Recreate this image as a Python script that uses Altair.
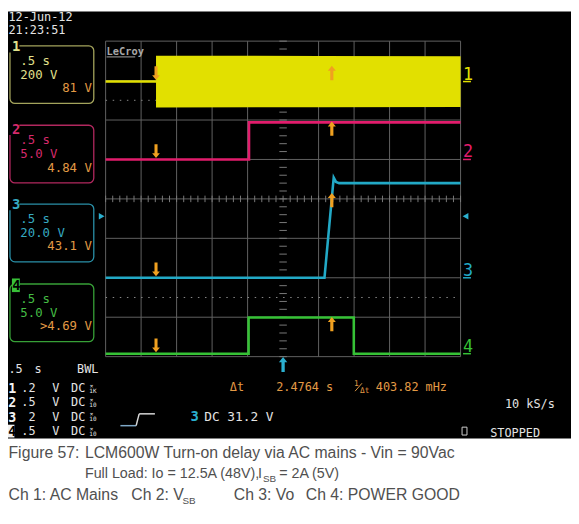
import altair as alt
import pandas as pd

# ---------------- values ----------------
SEC_PER_DIV = 0.5
H_DIVS = 10
V_DIVS = 8

ch_ids = ["1", "2", "3", "4"]
ch_colors = ["#e2e000", "#e21c6c", "#22a9c6", "#36c236"]
ch_box_txt = ["#e0e08c", "#d62a6c", "#36aac2", "#45bd45"]
ch_box_line = ["#a4a45c", "#b2285f", "#2a90a8", "#37a037"]
ch_v_per_div = [200.0, 5.0, 20.0, 5.0]
ch_ground = [2.975, 1.0, -2.0, -3.925]  # divisions from screen centre
ch_tdiv_lbl = [".5 s", ".5 s", ".5 s", ".5 s"]
ch_vdiv_lbl = ["200 V", "5.0 V", "20.0 V", "5.0 V"]
ch_meas_lbl = ["81 V", "4.84 V", "43.1 V", ">4.69 V"]
ch_meas_val = [81.0, 4.84, 43.1, 4.69]

# traces: time (s) and value (V)
ch1_idle_t = [-2.5, -1.79]
ch1_idle_v = [0.0, 0.0]
ch1_env_t = [-1.79, 0.5, 2.5]
ch1_env_pk = [131.0, 130.0, 129.0]
ch2_t = [-2.5, -0.48, -0.48, 2.5]
ch2_v = [0.0, 0.0, 4.7, 4.7]
ch3_t = [-2.5, 0.583, 0.713, 0.745, 0.79, 2.5]
ch3_v = [0.0, 0.0, 50.8, 48.6, 48.0, 48.0]
ch4_t = [-2.5, -0.486, -0.486, 0.996, 0.996, 2.5]
ch4_v = [0.0, 0.0, 4.6, 4.6, 0.0, 0.0]

cursor_t = [-1.79, 0.6864]
trig_ch = 2
trig_level = 31.2

probe_vdiv = [".2", ".5", "2", ".5"]
probe_att = ["1K", "10", "10", "10"]

# ---------------- layout (pixels of the 579x524 picture) ----------------
OFF = 8                      # page margin
W, H = 579 - OFF, 524 - 16   # chart size
CX, CY = 287.0, 198.0        # screen centre
PX_S = 36.0 / SEC_PER_DIV    # px per second
PX_D = 40.0                  # px per division

XS = alt.Scale(domain=[(OFF - CX) / PX_S, (OFF + W - CX) / PX_S], nice=False, zero=False)
YS = alt.Scale(domain=[(CY - OFF - H) / PX_D, (CY - OFF) / PX_D], nice=False, zero=False)
MONO = "DejaVu Sans Mono"
SANS = "Liberation Sans"


def X(f):
    return alt.X(f, scale=XS, axis=None)


def Y(f):
    return alt.Y(f, scale=YS, axis=None)


def to_div(ch, v):
    return ch_ground[ch] + v / ch_v_per_div[ch]


layers = []

# background: scope screen (black) above caption (white)
bg = pd.DataFrame([{"a": 0}])
layers.append(alt.Chart(bg).mark_rect(color="black").encode(
    x=alt.value(0), x2=alt.value(W), y=alt.value(0), y2=alt.value(441 - OFF)))

# grid
half_t = H_DIVS / 2 * SEC_PER_DIV
grid = []
for k in range(H_DIVS + 1):
    t = -half_t + k * SEC_PER_DIV
    if k == H_DIVS // 2:
        continue
    grid.append({"t1": t, "t2": t, "d1": -V_DIVS / 2, "d2": V_DIVS / 2})
for k in range(V_DIVS + 1):
    d = -V_DIVS / 2 + k
    grid.append({"t1": -half_t, "t2": half_t, "d1": d, "d2": d})
layers.append(alt.Chart(pd.DataFrame(grid)).mark_rule(color="#626262", strokeWidth=1).encode(
    x=X("t1:Q"), x2="t2:Q", y=Y("d1:Q"), y2="d2:Q"))

# dotted reference lines
dots = pd.DataFrame([{"d": 2.5}, {"d": -2.5}])
layers.append(alt.Chart(dots).mark_rule(color="#8a8a8a", strokeWidth=1, strokeDash=[1.5, 5.7]).encode(
    x=alt.value(107 - OFF), x2=alt.value(467 - OFF), y=Y("d:Q")))

# centre-axis ticks
ticks = []
for i in range(int(H_DIVS * 5) + 1):
    t = -half_t + i * SEC_PER_DIV / 5
    ticks.append({"t1": t, "t2": t, "d1": -3.3 / PX_D, "d2": 3.3 / PX_D})
for j in range(V_DIVS * 5 + 1):
    d = -V_DIVS / 2 + j / 5
    ticks.append({"t1": -3.8 / PX_S, "t2": 3.8 / PX_S, "d1": d, "d2": d})
layers.append(alt.Chart(pd.DataFrame(ticks)).mark_rule(color="#7a7a7a", strokeWidth=1).encode(
    x=X("t1:Q"), x2="t2:Q", y=Y("d1:Q"), y2="d2:Q"))

# CH1 envelope (AC mains)
env = pd.DataFrame({"t": ch1_env_t,
                    "hi": [to_div(0, v) for v in ch1_env_pk],
                    "lo": [to_div(0, -v) for v in ch1_env_pk]})
layers.append(alt.Chart(env).mark_area(color=ch_colors[0], opacity=1).encode(
    x=X("t:Q"), y=Y("hi:Q"), y2="lo:Q"))

# traces
rows = []
series = [(0, ch1_idle_t, ch1_idle_v), (1, ch2_t, ch2_v), (2, ch3_t, ch3_v), (3, ch4_t, ch4_v)]
for ch, ts, vs in series:
    for i, (t, v) in enumerate(zip(ts, vs)):
        rows.append({"ch": ch_ids[ch], "i": i, "t": t, "d": to_div(ch, v)})
layers.append(alt.Chart(pd.DataFrame(rows)).mark_line(strokeWidth=2.6).encode(
    x=X("t:Q"), y=Y("d:Q"),
    color=alt.Color("ch:N", scale=alt.Scale(domain=ch_ids, range=ch_colors), legend=None),
    order="i:Q"))

# cursor arrows
UP = "M 0 -1 L 0.56 -0.3 L 0.22 -0.3 L 0.22 1 L -0.22 1 L -0.22 -0.3 L -0.56 -0.3 Z"
DOWN = "M 0 1 L 0.56 0.3 L 0.22 0.3 L 0.22 -1 L -0.22 -1 L -0.22 0.3 L -0.56 0.3 Z"
down = pd.DataFrame([{"t": cursor_t[0], "d": to_div(c, 0.0) + 8.5 / PX_D} for c in range(4)])
up = pd.DataFrame([{"t": cursor_t[1], "d": to_div(c, ch_meas_val[c]) - 7.5 / PX_D} for c in range(4)])
layers.append(alt.Chart(down).mark_point(shape=DOWN, filled=True, size=196, color="#f0a020", opacity=1).encode(
    x=X("t:Q"), y=Y("d:Q")))
layers.append(alt.Chart(up).mark_point(shape=UP, filled=True, size=210, color="#f0a020", opacity=1).encode(
    x=X("t:Q"), y=Y("d:Q")))

# trigger position arrow and trigger level markers
trig = pd.DataFrame([{"t": 0.0, "d": -V_DIVS / 2 - 8.0 / PX_D}])
layers.append(alt.Chart(trig).mark_point(shape=UP, filled=True, size=230, color="#2bb0d0", opacity=1).encode(
    x=X("t:Q"), y=Y("d:Q")))
lvl = to_div(trig_ch, trig_level)
tl = pd.DataFrame([{"t": half_t + 5 / PX_S, "d": lvl, "s": "triangle-left"},
                   {"t": -half_t - 4 / PX_S, "d": lvl, "s": "triangle-right"}])
layers.append(alt.Chart(tl).mark_point(filled=True, size=45, color="#2bb0d0", opacity=1).encode(
    x=X("t:Q"), y=Y("d:Q"), shape=alt.Shape("s:N", scale=None)))

# right-hand channel ground markers
gm = pd.DataFrame([{"t": half_t + 2.5 / PX_S, "t2": half_t + 10.5 / PX_S, "d": ch_ground[c],
                    "s": ch_ids[c], "ch": ch_ids[c]} for c in range(4)])
layers.append(alt.Chart(gm).mark_text(font=MONO, fontSize=17, align="left", baseline="alphabetic", dy=-2).encode(
    x=X("t:Q"), y=Y("d:Q"), text="s:N",
    color=alt.Color("ch:N", scale=alt.Scale(domain=ch_ids, range=ch_colors), legend=None)))
layers.append(alt.Chart(gm).mark_rule(strokeWidth=1.5).encode(
    x=X("t:Q"), x2="t2:Q", y=Y("d:Q"),
    color=alt.Color("ch:N", scale=alt.Scale(domain=ch_ids, range=ch_colors), legend=None)))


# ---------------- pixel-placed annotations ----------------
def px_rects(rows):
    df = pd.DataFrame(rows, columns=["x1", "y1", "x2", "y2", "c"])
    for k in ["x1", "x2", "y1", "y2"]:
        df[k] = df[k] - OFF
    return df


def rect_layer(rows, filled=True, **kw):
    df = px_rects(rows)
    if filled:
        m = alt.Chart(df).mark_rect(**kw).encode(
            x=alt.X("x1:Q", scale=None, axis=None), x2="x2:Q",
            y=alt.Y("y1:Q", scale=None, axis=None), y2="y2:Q",
            fill=alt.Fill("c:N", scale=None))
    else:
        m = alt.Chart(df).mark_rect(fillOpacity=0, **kw).encode(
            x=alt.X("x1:Q", scale=None, axis=None), x2="x2:Q",
            y=alt.Y("y1:Q", scale=None, axis=None), y2="y2:Q",
            stroke=alt.Stroke("c:N", scale=None))
    return m


def rule_layer(rows, **kw):
    df = px_rects(rows)
    return alt.Chart(df).mark_rule(**kw).encode(
        x=alt.X("x1:Q", scale=None, axis=None), x2="x2:Q",
        y=alt.Y("y1:Q", scale=None, axis=None), y2="y2:Q",
        color=alt.Color("c:N", scale=None))


def txt_layer(rows, size, font=MONO, weight="normal", align="left"):
    df = pd.DataFrame(rows, columns=["s", "px", "py", "c"])
    df["px"] = df["px"] - OFF
    df["py"] = df["py"] - OFF
    return alt.Chart(df).mark_text(font=font, fontSize=size, fontWeight=weight,
                                   align=align, baseline="alphabetic").encode(
        x=alt.X("px:Q", scale=None, axis=None),
        y=alt.Y("py:Q", scale=None, axis=None),
        text="s:N", color=alt.Color("c:N", scale=None))


WHITE = "#e4e4e4"
ORANGE = "#e39a45"

# date / time
layers.append(txt_layer([("12-Jun-12", 8.5, 17.5, WHITE), ("21:23:51", 8.5, 31, WHITE)], 12))

# LeCroy logo
layers.append(txt_layer([("LeCroy", 108, 52, "#a8a8a8")], 10.5, weight="bold"))
layers.append(rule_layer([(108, 54, 137, 54, "#a8a8a8")], strokeWidth=1))

# channel boxes
box_top = [42.7, 123.3, 203.3, 284.3]
lbl_base = [48.0, 131.7, 208.0, 290.5]
layers.append(rect_layer([(10, box_top[c], 95, box_top[c] + 58.5, ch_box_line[c]) for c in range(4)],
                         filled=False, strokeWidth=1.3, cornerRadius=5))
layers.append(rect_layer([(9, lbl_base[c] - 12.5, 19.5, lbl_base[c] + 1.5, "black") for c in range(3)]))
layers.append(rect_layer([(12, 278.7, 20, 292.5, "#38c038")]))
layers.append(txt_layer([(ch_ids[c], 12, lbl_base[c], ch_box_txt[c]) for c in range(3)] +
                        [("4", 12.3, 290.8, "black")], 14, weight="bold"))
box_rows = []
for c in range(4):
    box_rows.append((ch_tdiv_lbl[c], 20.5, box_top[c] + 19, ch_box_txt[c]))
    box_rows.append((ch_vdiv_lbl[c], 20.5, box_top[c] + 33.5, ch_box_txt[c]))
layers.append(txt_layer(box_rows, 12.5))
layers.append(txt_layer([(ch_meas_lbl[c], 93, box_top[c] + 47, ORANGE) for c in range(4)], 12.5, align="right"))

# bottom status area
layers.append(txt_layer([(".5", 8.5, 375, WHITE), ("s", 35, 375, WHITE), ("BWL", 78, 375, WHITE)], 12))
row_base = [394.0, 408.5, 423.0, 437.5]
layers.append(rect_layer([(8, 427, 14.5, 440, "#f0f0f0")]))
layers.append(txt_layer([(ch_ids[c], 8.2, row_base[c] + 1, "#f4f4f4") for c in range(3)] +
                        [("4", 8.2, row_base[3] + 1, "black")], 13.5, weight="bold"))
layers.append(txt_layer([(probe_vdiv[c], 36, row_base[c], WHITE) for c in range(4)], 12, align="right"))
layers.append(txt_layer([(s, x, row_base[c], WHITE) for c in range(4) for s, x in (("V", 53), ("DC", 72))], 12))
layers.append(txt_layer([("×", 91, row_base[c] - 4.5, WHITE) for c in range(4)] +
                        [(probe_att[c], 90.5, row_base[c] + 0.5, WHITE) for c in range(4)], 6))

# cursor readouts
layers.append(txt_layer([("Δt", 233, 393, ORANGE), (f"{cursor_t[1] - cursor_t[0]:.4f} s", 280, 393, ORANGE),
                         ("403.82 mHz", 381, 393, ORANGE)], 12))
layers.append(txt_layer([("1", 359, 388, ORANGE), ("Δt", 365, 395, ORANGE)], 8))
layers.append(rule_layer([(360, 393, 367, 385, ORANGE)], strokeWidth=1))

# trigger readout and icon
layers.append(rule_layer([(122, 428, 138, 428, "#7fa9c8"), (138, 428, 141, 416, "#d8d8d8"),
                          (141, 416, 157, 416, "#d8d8d8")], strokeWidth=1.5))
layers.append(txt_layer([("3", 193, 423.5, "#2bb0d0")], 14, weight="bold"))
layers.append(txt_layer([(f"DC {trig_level} V", 207, 423, WHITE)], 13))
layers.append(txt_layer([("10 kS/s", 512, 410, WHITE), ("STOPPED", 497, 439.5, WHITE)], 12))
layers.append(rect_layer([(468.5, 429.5, 473.5, 437.5, "#d0d0d0")], filled=False, strokeWidth=1))

# caption
CAP = "#505050"
layers.append(txt_layer([("Figure 57:", 8.5, 460.5, CAP),
                         ("LCM600W Turn-on delay via AC mains - Vin = 90Vac", 86, 460.5, CAP),
                         ("Ch 1: AC Mains", 8.5, 503, CAP),
                         ("Ch 2: V", 133, 503, CAP),
                         ("Ch 3: Vo", 237, 503, CAP),
                         ("Ch 4: POWER GOOD", 310, 503, CAP)], 16, font=SANS))
layers.append(txt_layer([("Full Load: Io = 12.5A (48V),", 86, 481.5, CAP),
                         ("I", 261.5, 481.5, CAP),
                         ("= 2A (5V)", 283, 481.5, CAP)], 14.5, font=SANS))
layers.append(txt_layer([("SB", 266.5, 485.5, CAP), ("SB", 185, 507, CAP)], 10, font=SANS))

chart = alt.layer(*layers).resolve_scale(
    x="independent", y="independent", color="independent", shape="independent",
    fill="independent", stroke="independent"
).properties(
    width=W, height=H, padding=0, background="white",
    autosize=alt.AutoSizeParams(type="none")
).configure_view(stroke=None)

chart.save("out.html", embed_options={"renderer": "svg", "actions": False})
